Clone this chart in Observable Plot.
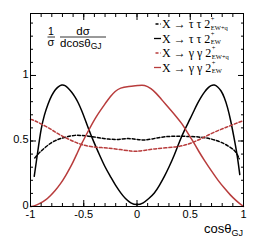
<!DOCTYPE html>
<html><head><meta charset="utf-8">
<script src="https://cdn.jsdelivr.net/npm/d3@7"></script>
<script src="https://cdn.jsdelivr.net/npm/@observablehq/plot@0.6"></script>
<style>body{margin:0;background:#fff}</style>
</head><body><div id="chart"></div>
<script>
// ---- data ----
const ttEWq_cos = [-0.96,-0.92,-0.89,-0.85,-0.8,-0.75,-0.71,-0.65,-0.58,-0.52,-0.455,-0.39,-0.33,-0.27,-0.205,-0.14,-0.08,-0.03,0.02,0.07,0.14,0.227,0.3,0.38,0.46,0.54,0.62,0.695,0.76,0.82,0.87,0.915,0.94,0.96];
const ttEWq_val = [0.37,0.41,0.43,0.46,0.49,0.51,0.52,0.535,0.545,0.542,0.537,0.53,0.52,0.515,0.51,0.515,0.52,0.515,0.51,0.506,0.515,0.53,0.535,0.537,0.535,0.534,0.527,0.517,0.5,0.48,0.455,0.43,0.40,0.364];

const ttEW_cos = [-0.965,-0.93,-0.9,-0.87,-0.836,-0.8,-0.77,-0.74,-0.706,-0.675,-0.648,-0.61,-0.58,-0.55,-0.52,-0.49,-0.455,-0.41,-0.35,-0.3,-0.25,-0.205,-0.15,-0.11,-0.06,0,0.06,0.11,0.164,0.21,0.258,0.3,0.35,0.4,0.45,0.5,0.54,0.57,0.6,0.634,0.665,0.695,0.727,0.757,0.79,0.82,0.85,0.88,0.91,0.94,0.965];
const ttEW_val = [0.23,0.43,0.6,0.7,0.784,0.85,0.89,0.915,0.93,0.925,0.905,0.87,0.834,0.79,0.733,0.67,0.593,0.5,0.39,0.3,0.23,0.165,0.1,0.06,0.025,0.01,0.025,0.06,0.1,0.16,0.23,0.3,0.39,0.5,0.59,0.67,0.74,0.79,0.834,0.875,0.905,0.925,0.93,0.915,0.885,0.834,0.76,0.656,0.53,0.40,0.244];

const ggEWq_cos = [-1,-0.96,-0.9,-0.83,-0.77,-0.71,-0.645,-0.58,-0.52,-0.455,-0.39,-0.33,-0.27,-0.205,-0.12,-0.05,0,0.08,0.164,0.27,0.38,0.46,0.53,0.6,0.68,0.76,0.84,0.915,1];
const ggEWq_val = [0.665,0.656,0.63,0.6,0.57,0.54,0.515,0.49,0.472,0.46,0.452,0.45,0.445,0.44,0.43,0.422,0.42,0.43,0.44,0.448,0.455,0.47,0.49,0.517,0.55,0.58,0.605,0.63,0.656];

const ggEW_cos = [-1,-0.96,-0.92,-0.86,-0.81,-0.77,-0.72,-0.67,-0.61,-0.56,-0.52,-0.455,-0.39,-0.3,-0.25,-0.205,-0.158,-0.08,0.014,0.07,0.133,0.18,0.227,0.27,0.32,0.37,0.415,0.47,0.524,0.58,0.634,0.7,0.76,0.82,0.88,0.93,0.974,1];
const ggEW_val = [0,0.005,0.02,0.046,0.085,0.12,0.17,0.235,0.32,0.41,0.48,0.58,0.68,0.784,0.84,0.88,0.906,0.916,0.924,0.93,0.9,0.865,0.82,0.78,0.733,0.685,0.64,0.57,0.5,0.42,0.35,0.27,0.2,0.14,0.084,0.045,0.015,0];

const xMajorTicks = [-1,-0.5,0,0.5,1];
const xMinorTicks = d3.range(-10, 11).map(i => i/10);
const yMajorTicks = [0,0.5,1];
const yMinorTicks = d3.range(0, 15).map(i => i/10);

const red = "#b83c3c";
const series = [
  {name:"ttEWq", cos: ttEWq_cos, val: ttEWq_val, color:"#000", dash:"3,2", main:"X \u2192 \u03c4 \u03c4 2", sub:"EW+q"},
  {name:"ttEW",  cos: ttEW_cos,  val: ttEW_val,  color:"#000", dash:null,  main:"X \u2192 \u03c4 \u03c4 2", sub:"EW"},
  {name:"ggEWq", cos: ggEWq_cos, val: ggEWq_val, color:red,    dash:"3,2", main:"X \u2192 \u03b3 \u03b3 2", sub:"EW+q"},
  {name:"ggEW",  cos: ggEW_cos,  val: ggEW_val,  color:red,    dash:null,  main:"X \u2192 \u03b3 \u03b3 2", sub:"EW"}
];

const sans = "'Liberation Sans', Arial, Helvetica, sans-serif";
const serif = "'Liberation Serif', 'Times New Roman', serif";
const blank = () => "";

const lineMarks = series.map(s =>
  Plot.line(s.cos.map((c, i) => ({c, v: s.val[i]})), {
    x: "c", y: "v", stroke: s.color, strokeWidth: 1.5,
    strokeDasharray: s.dash || undefined, curve: "basis"
  })
);

const chart = Plot.plot({
  width: 256, height: 244,
  marginLeft: 30, marginRight: 13, marginTop: 13, marginBottom: 38,
  x: {domain: [-1, 1]},
  y: {domain: [0, 1.473]},
  style: {fontFamily: sans, fontSize: "11px", background: "#fff", color: "#000"},
  marks: [
    ...lineMarks,
    Plot.axisX({ticks: xMajorTicks, tickSize: -6, tickFormat: blank, label: null, anchor: "bottom"}),
    Plot.axisX({ticks: xMinorTicks, tickSize: -3, tickFormat: blank, label: null, anchor: "bottom"}),
    Plot.axisX({ticks: xMajorTicks, tickSize: -6, tickFormat: blank, label: null, anchor: "top"}),
    Plot.axisX({ticks: xMinorTicks, tickSize: -3, tickFormat: blank, label: null, anchor: "top"}),
    Plot.axisY({ticks: yMajorTicks, tickSize: -6, tickFormat: blank, label: null, anchor: "left"}),
    Plot.axisY({ticks: yMinorTicks, tickSize: -3, tickFormat: blank, label: null, anchor: "left"}),
    Plot.axisY({ticks: yMajorTicks, tickSize: -6, tickFormat: blank, label: null, anchor: "right"}),
    Plot.axisY({ticks: yMinorTicks, tickSize: -3, tickFormat: blank, label: null, anchor: "right"}),
    Plot.axisX({ticks: xMajorTicks, tickSize: 0, tickPadding: 4, tickFormat: d => String(d), label: null, anchor: "bottom"}),
    Plot.axisY({ticks: yMajorTicks, tickSize: 0, tickPadding: 2, dy: -1.5, tickFormat: d => String(d), label: null, anchor: "left"}),
    Plot.frame({stroke: "#000", strokeWidth: 1})
  ]
});
document.getElementById("chart").appendChild(chart);

const svg = d3.select(chart);
svg.selectAll("text").filter(function(){ return this.textContent === ""; }).remove();

// x-axis title
const xt = svg.append("text").attr("font-family", sans).attr("font-size", 13).attr("fill", "#000")
  .attr("text-anchor", "start").attr("y", 233);
xt.append("tspan").text("cos\u03b8");
xt.append("tspan").attr("font-size", 9).attr("dy", 3).text("GJ");
const xtw = xt.node().getComputedTextLength();
xt.attr("x", 243 - xtw);

// y-axis title (fraction)
const g = svg.append("g").attr("font-family", sans).attr("fill", "#000").attr("text-anchor", "start");
g.append("text").attr("x", 51).attr("y", 34.5).attr("font-size", 10.5).attr("text-anchor", "middle").text("1");
g.append("line").attr("x1", 47.5).attr("x2", 55).attr("y1", 37).attr("y2", 37).attr("stroke", "#000").attr("stroke-width", 0.8);
g.append("text").attr("x", 51).attr("y", 46).attr("font-size", 11).attr("text-anchor", "middle").text("\u03c3");
g.append("text").attr("x", 83).attr("y", 34.5).attr("font-size", 11.5).attr("text-anchor", "middle").text("d\u03c3");
g.append("line").attr("x1", 60).attr("x2", 106).attr("y1", 37).attr("y2", 37).attr("stroke", "#000").attr("stroke-width", 0.8);
const dc = g.append("text").attr("x", 60).attr("y", 46.5).attr("font-size", 11.5).attr("text-anchor", "start");
dc.append("tspan").text("dcos\u03b8");
dc.append("tspan").attr("font-size", 8.5).attr("dy", 2.5).text("GJ");

// legend
const leg = svg.append("g").attr("text-anchor", "start");
const rowY = [24, 38.5, 53, 67.5];
series.forEach((s, i) => {
  const y = rowY[i];
  leg.append("line").attr("x1", s.dash ? 155.5 : 154).attr("x2", 161).attr("y1", y).attr("y2", y)
    .attr("stroke", s.color).attr("stroke-width", 1.3).attr("stroke-dasharray", s.dash);
  const t = leg.append("text").attr("x", 162).attr("y", y + 4).attr("font-family", serif)
    .attr("font-size", 12).attr("fill", "#000").attr("text-anchor", "start").text(s.main);
  const w = t.node().getComputedTextLength();
  leg.append("text").attr("x", 162 + w + 0.5).attr("y", y - 3).attr("font-family", serif)
    .attr("font-size", 6.5).attr("fill", "#000").attr("text-anchor", "start").text("+");
  leg.append("text").attr("x", 162 + w + 0.5).attr("y", y + 5.5).attr("font-family", serif)
    .attr("font-size", 6.5).attr("fill", "#000").attr("text-anchor", "start").text(s.sub);
});
</script>
</body></html>
